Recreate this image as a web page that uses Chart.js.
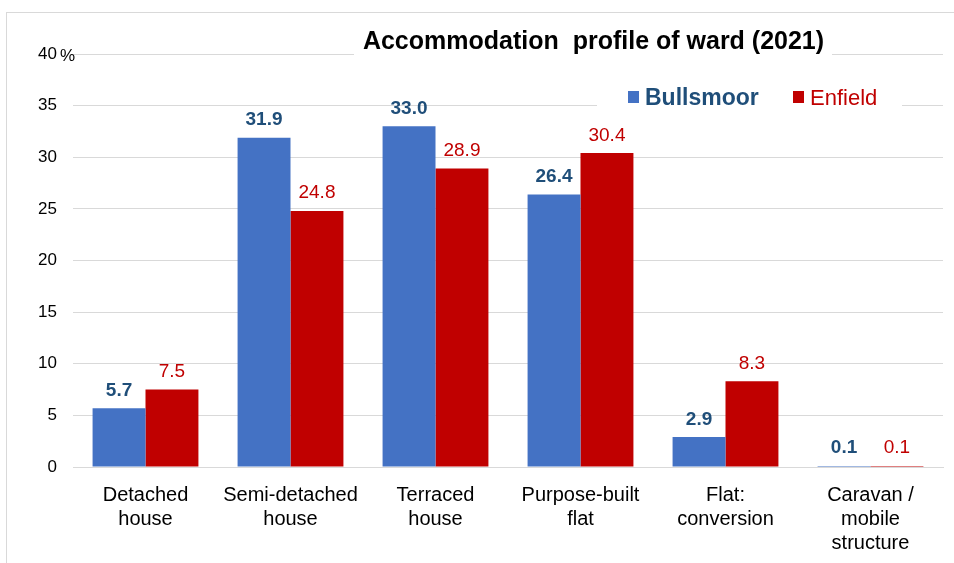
<!DOCTYPE html>
<html><head><meta charset="utf-8">
<script src="https://cdn.jsdelivr.net/npm/chart.js@4"></script>
<style>
html,body{margin:0;padding:0;background:#fff;overflow:hidden;}
#wrap{position:relative;width:954px;height:563px;overflow:hidden;}
#frame{position:absolute;left:6px;top:12px;width:1000px;height:700px;border:1px solid #d9d9d9;box-sizing:border-box;}
#c{position:absolute;left:0;top:0;}
</style></head><body>
<div id="wrap"><div id="frame"></div><canvas id="c" width="954" height="563"></canvas></div>
<script>
const categories = [["Detached","house"],["Semi-detached","house"],["Terraced","house"],["Purpose-built","flat"],["Flat:","conversion"],["Caravan /","mobile","structure"]];
const seriesNames = ["Bullsmoor","Enfield"];
const bullsmoor = [5.7,31.9,33.0,26.4,2.9,0.1];
const enfield = [7.5,24.8,28.9,30.4,8.3,0.1];
const yTickValues = [0,5,10,15,20,25,30,35,40];
const titleText = "Accommodation  profile of ward (2021)";

const FONT = "'Liberation Sans', Arial, sans-serif";
const barColors = ["#4472C4","#C00000"];
const labelColors = ["#1F4E79","#C00000"];
const labelWeights = ["bold","normal"];

const overlay = {
  id:'overlay',
  afterDraw(chart){
    const ctx = chart.ctx;
    ctx.save();
    // data labels
    chart.data.datasets.forEach((ds,di)=>{
      const meta = chart.getDatasetMeta(di);
      ctx.font = labelWeights[di]+" 19px "+FONT;
      ctx.fillStyle = labelColors[di];
      ctx.textAlign = 'center';
      ctx.textBaseline = 'alphabetic';
      meta.data.forEach((el,i)=>{
        ctx.fillText(ds.data[i].toFixed(1), el.x, el.y - 12.5);
      });
    });
    // % after top tick
    const ys = chart.scales.y;
    ctx.font = "17px "+FONT;
    ctx.fillStyle = "#000";
    ctx.textAlign='left';
    ctx.textBaseline='middle';
    ctx.fillText('%', 60, ys.getPixelForValue(yTickValues[yTickValues.length-1])+2);
    // title
    ctx.fillStyle = '#fff';
    ctx.fillRect(354, 28, 478, 34);
    ctx.font = "bold 25px "+FONT;
    ctx.fillStyle = '#000';
    ctx.textAlign='center';
    ctx.textBaseline='alphabetic';
    ctx.fillText(titleText, 593.5, 49);
    // legend
    ctx.fillStyle = '#fff';
    ctx.fillRect(597, 84, 305, 28);
    const legendX = [628, 793];
    const legendSizes = [23, 22];
    chart.data.datasets.forEach((ds,di)=>{
      ctx.fillStyle = barColors[di];
      ctx.fillRect(legendX[di], 91, 11, 12);
      ctx.font = labelWeights[di]+" "+legendSizes[di]+"px "+FONT;
      ctx.fillStyle = labelColors[di];
      ctx.textAlign='left';
      ctx.textBaseline='alphabetic';
      ctx.fillText(ds.label, legendX[di]+17, 105);
    });
    ctx.restore();
  }
};

new Chart(document.getElementById('c'), {
  type:'bar',
  data:{
    labels:categories,
    datasets:[
      {label:seriesNames[0], data:bullsmoor, backgroundColor:barColors[0]},
      {label:seriesNames[1], data:enfield, backgroundColor:barColors[1]}
    ]
  },
  options:{
    responsive:false,
    animation:false,
    devicePixelRatio:1,
    categoryPercentage:0.73,
    barPercentage:1,
    layout:{padding:{left:0,right:11,top:54,bottom:0}},
    plugins:{legend:{display:false},title:{display:false},tooltip:{enabled:false}},
    scales:{
      x:{
        grid:{display:false, drawTicks:false},
        border:{display:true,color:'#d9d9d9'},
        ticks:{font:{family:FONT,size:20,lineHeight:1.2},color:'#000',padding:16,maxRotation:0,autoSkip:false},
        afterFit(s){s.height=96;}
      },
      y:{
        min:0,max:40,
        afterBuildTicks(s){s.ticks = yTickValues.map(v=>({value:v}));},
        grid:{color:'#d9d9d9',drawTicks:false},
        border:{display:false},
        ticks:{font:{family:FONT,size:17},color:'#000',padding:16},
        afterFit(s){s.width=73;}
      }
    }
  },
  plugins:[overlay]
});
</script>
</body></html>
